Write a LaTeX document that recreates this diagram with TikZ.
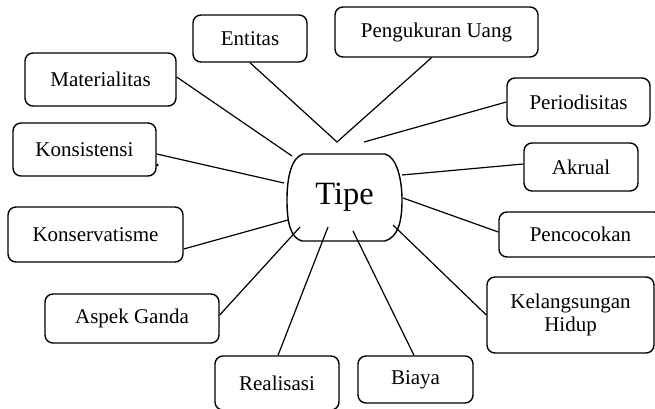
\documentclass[tikz,border=0pt]{standalone}
\usepackage{fontspec}
\setmainfont{Liberation Serif}
\begin{document}
\begin{tikzpicture}[x=1pt,y=-1pt,
  concept/.style={draw,line width=1.4pt,rounded corners=8pt,inner sep=0pt,
    align=center,font=\fontsize{21}{23.5}\selectfont},
  link/.style={line width=1.2pt}]
\useasboundingbox (0,0) rectangle (655,408);

% outer concept boxes
\node[concept,minimum width=114pt,minimum height=47pt] (ent)  at (250,38.5)  {Entitas};
\node[concept,minimum width=203pt,minimum height=50pt] (pu)   at (436.5,32)  {Pengukuran Uang};
\node[concept,minimum width=151pt,minimum height=53pt] (mat)  at (100.5,79.5) {Materialitas};
\node[concept,minimum width=143pt,minimum height=48pt] (per)  at (578.5,102) {Periodisitas};
\node[concept,minimum width=143pt,minimum height=53pt] (kons) at (84.5,149.5) {Konsistensi};
\node[concept,minimum width=114pt,minimum height=48pt] (akr)  at (581,167)   {Akrual};
\node[concept,minimum width=175pt,minimum height=55pt] (kvt)  at (95.5,234.5) {Konservatisme};
\node[concept,minimum width=163pt,minimum height=45pt] (pen)  at (580.5,234.5) {Pencocokan};
\node[concept,minimum width=174pt,minimum height=49pt] (ag)   at (132,318.5) {Aspek Ganda};
\node[concept,minimum width=167pt,minimum height=76pt] (kh)   at (570.5,315) {Kelangsungan\\Hidup};
\node[concept,minimum width=124pt,minimum height=54pt] (real) at (277,383)   {Realisasi};
\node[concept,minimum width=115pt,minimum height=47pt] (bia)  at (415.5,379.5) {Biaya};
\node[font=\fontsize{21}{23.5}\selectfont,inner sep=0pt,anchor=base] (dot) at (157.5,166) {.};

% central shape: flat top and bottom, bulging sides
\draw[line width=1.4pt]
  (303,154) -- (385,154)
  .. controls (397,157) and (402,180) .. (402,200)
  .. controls (402,222) and (398,237) .. (385,241)
  -- (302,241)
  .. controls (291,238) and (287,224) .. (287,200)
  .. controls (287,178) and (291,158) .. (303,154) -- cycle;
\node[font=\fontsize{32.5}{37}\selectfont,inner sep=0pt,anchor=base] (tipe) at (344.5,204) {Tipe};

% inner ends of the connectors
\coordinate (cMat)  at (292,156);
\coordinate (cV)    at (337,142);
\coordinate (cPer)  at (364,142);
\coordinate (cAkr)  at (402,175);
\coordinate (cKons) at (284,183);
\coordinate (cKvt)  at (288,220);
\coordinate (cAg)   at (300,227);
\coordinate (cReal) at (328,227);
\coordinate (cBia)  at (353,231);
\coordinate (cPen)  at (403,198);
\coordinate (cKh)   at (393,225);

% connectors
\draw[link] ([yshift=2.5pt]mat.east) -- (cMat);
\draw[link] (ent.south) -- (cV) -- ([xshift=-5pt]pu.south);
\draw[link] (per.west) -- (cPer);
\draw[link] ([yshift=3pt]akr.west) -- (cAkr);
\draw[link] ([yshift=-4.5pt]kons.east) -- (cKons);
\draw[link] ([yshift=-14.5pt]kvt.east) -- (cKvt);
\draw[link] ([yshift=3.5pt]ag.east) -- (cAg);
\draw[link] ([xshift=1pt]real.north) -- (cReal);
\draw[link] ([xshift=-1.5pt]bia.north) -- (cBia);
\draw[link] ([yshift=2.5pt]pen.west) -- (cPen);
\draw[link] (kh.west) -- (cKh);
\end{tikzpicture}
\end{document}
